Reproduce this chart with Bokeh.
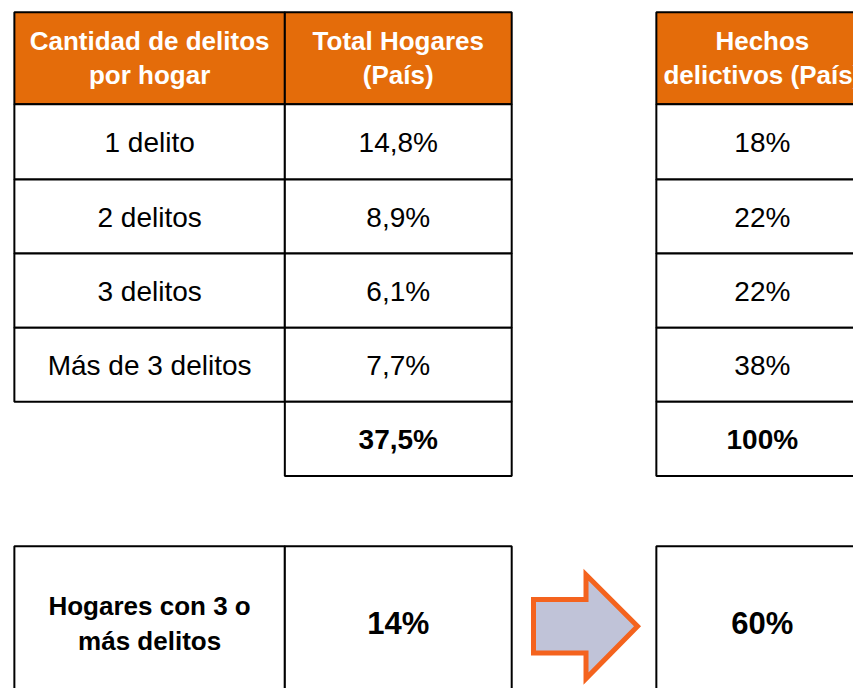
from bokeh.plotting import figure
from bokeh.models import Range1d, ColumnDataSource
from bokeh.core.properties import value
from bokeh.embed import file_html
from bokeh.resources import INLINE

# ---- data ----
header_left = ["Cantidad de delitos\npor hogar", "Total Hogares\n(País)"]
header_right = "Hechos\ndelictivos (País)"
categories = ["1 delito", "2 delitos", "3 delitos", "Más de 3 delitos"]
total_hogares = [14.8, 8.9, 6.1, 7.7]
hechos = [18, 22, 22, 38]
total_hogares_sum = 37.5
hechos_sum = 100
summary_label = "Hogares con 3 o\nmás delitos"
summary_hogares = 14
summary_hechos = 60

FONT = value("Liberation Sans")
ORANGE = "#E46C0A"

def fmt(v, dec=1):
    return (f"{v:.{dec}f}".replace(".", ",")) + "%"

p = figure(width=853, height=688, output_backend="svg", toolbar_location=None,
           x_range=Range1d(0, 861), y_range=Range1d(696, 0), min_border=0)
p.axis.visible = False
p.grid.visible = False
p.outline_line_color = None
p.background_fill_color = "white"

# layout
c0, c1, c2 = 14, 287, 516
r0, r1 = 662, 900
rows = [105, 181, 256, 331, 406, 481]
top = 12
btop, bbot = 552, 740
dy = -10  # baseline correction

# header cells
hdr = ColumnDataSource(dict(left=[c0, c1, r0], right=[c1, c2, r1],
                            top=[top] * 3, bottom=[rows[0]] * 3))
p.quad(left="left", right="right", top="top", bottom="bottom", source=hdr,
       fill_color=ORANGE, line_color="black", line_width=2)

# body cells
L, R, T, B = [], [], [], []
for i in range(len(categories)):
    for (a, b) in [(c0, c1), (c1, c2), (r0, r1)]:
        L.append(a); R.append(b); T.append(rows[i]); B.append(rows[i + 1])
for (a, b) in [(c1, c2), (r0, r1)]:
    L.append(a); R.append(b); T.append(rows[4]); B.append(rows[5])
for (a, b) in [(c0, c1), (c1, c2), (r0, r1)]:
    L.append(a); R.append(b); T.append(btop); B.append(bbot)
p.quad(left=L, right=R, top=T, bottom=B, fill_color="white",
       line_color="black", line_width=2)

# header text
xc = [(c0 + c1) / 2, (c1 + c2) / 2]
rc = 769
hx, hy, ht = [], [], []
for x, h in zip(xc + [rc], header_left + [header_right]):
    for k, line in enumerate(h.split("\n")):
        hx.append(x); hy.append(51 + dy + k * 34); ht.append(line)
p.text(x=hx, y=hy, text=ht, text_font=FONT, text_font_style="bold",
       text_font_size="26px", text_color="white", text_align="center",
       text_baseline="alphabetic")

# body text
bx, by, bt = [], [], []
for i, (cat, th, hc) in enumerate(zip(categories, total_hogares, hechos)):
    yb = (rows[i] + rows[i + 1]) / 2 + 11 + dy
    bx += [xc[0], xc[1], rc]; by += [yb] * 3
    bt += [cat, fmt(th), fmt(hc, 0)]
p.text(x=bx, y=by, text=bt, text_font=FONT, text_font_size="28px",
       text_color="black", text_align="center", text_baseline="alphabetic")

# totals
ytot = (rows[4] + rows[5]) / 2 + 11 + dy
p.text(x=[xc[1], rc], y=[ytot, ytot],
       text=[fmt(total_hogares_sum), fmt(hechos_sum, 0)],
       text_font=FONT, text_font_style="bold", text_font_size="28px",
       text_color="black", text_align="center", text_baseline="alphabetic")

# summary
sl = summary_label.split("\n")
p.text(x=[xc[0]] * len(sl), y=[623 + dy + 35 * k for k in range(len(sl))], text=sl,
       text_font=FONT, text_font_style="bold", text_font_size="26px",
       text_color="black", text_align="center", text_baseline="alphabetic")
p.text(x=[xc[1], rc], y=[640 + dy, 640 + dy],
       text=[fmt(summary_hogares, 0), fmt(summary_hechos, 0)],
       text_font=FONT, text_font_style="bold", text_font_size="31px",
       text_color="black", text_align="center", text_baseline="alphabetic")

# arrow
ax = [538, 591, 591, 643, 591, 591, 538]
ay = [606, 606, 581, 633, 686, 660, 660]
p.patch(ax, ay, fill_color="#C0C3D8", line_color="#F4631E", line_width=5,
        line_join="miter")

open("out.html", "w").write(file_html(p, INLINE))
